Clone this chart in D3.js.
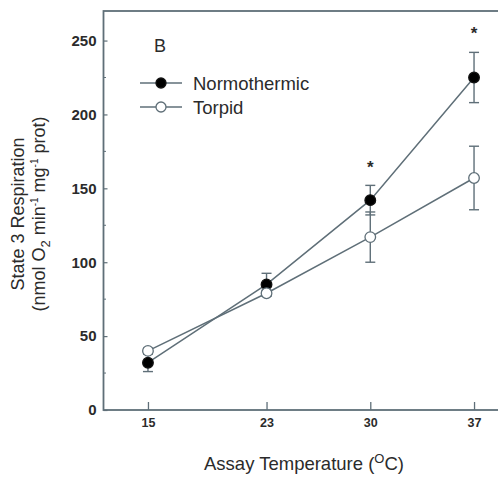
<!DOCTYPE html>
<html><head><meta charset="utf-8">
<script src="https://cdn.jsdelivr.net/npm/d3@7"></script>
<style>body{margin:0;background:#fff}svg{display:block}text{font-family:"Liberation Sans",Arial,sans-serif;fill:#2b2b2b}</style>
</head><body>
<svg id="c" width="498" height="478"></svg>
<script>
const temps = [15, 23, 30, 37];
const normoMean = [32, 85, 142, 225];
const normoErr = [6, 7.5, 10, 17];
const torpidMean = [40, 79, 117, 157];
const torpidErr = [2, 2, 17, 21.5];
const yTicks = [0, 50, 100, 150, 200, 250];
const yMinor = [25, 75, 125, 175, 225];
const starTemps = [30, 37];
const starValues = [165, 256];

const svg = d3.select("#c");
const col = "#5f6f78";
const x = d3.scaleLinear().domain([12, 40]).range([103.5, 518.5]);
const y = d3.scaleLinear().domain([0, 270]).range([410, 11]);

// frame
svg.append("rect").attr("x", x(12)).attr("y", y(270)).attr("width", x(40)-x(12)).attr("height", y(0)-y(270))
  .attr("fill", "none").attr("stroke", col).attr("stroke-width", 1.8);

// y axis
const ya = svg.append("g").attr("transform", `translate(${x(12)},0)`)
  .call(d3.axisLeft(y).tickValues(yTicks).tickSize(-4).tickPadding(7));
ya.select(".domain").remove();
ya.selectAll("line").attr("stroke", col).attr("stroke-width", 1.2);
ya.selectAll("text").attr("font-size", 15).attr("font-weight", "bold").attr("fill", "#3a3a3a")
  .attr("font-family", "Liberation Sans, Arial, sans-serif");
svg.append("g").selectAll("line").data(yMinor).join("line")
  .attr("x1", x(12)).attr("x2", x(12)+2.5).attr("y1", d => y(d)).attr("y2", d => y(d))
  .attr("stroke", col).attr("stroke-width", 1);

// x axis
const xa = svg.append("g").attr("transform", `translate(0,${y(0)})`)
  .call(d3.axisBottom(x).tickValues(temps).tickSize(-8).tickPadding(8).tickFormat(d3.format("d")));
xa.select(".domain").remove();
xa.selectAll("line").attr("stroke", col).attr("stroke-width", 1.3);
xa.selectAll("text").attr("font-size", 12.5).attr("font-weight", "bold").attr("fill", "#3a3a3a")
  .attr("font-family", "Liberation Sans, Arial, sans-serif");

// axis titles
const xt = svg.append("text").attr("x", 304).attr("y", 470).attr("text-anchor", "middle").attr("font-size", 18.5);
xt.append("tspan").text("Assay Temperature (");
xt.append("tspan").attr("font-size", 13).attr("dy", -7).text("O");
xt.append("tspan").attr("dy", 7).text("C)");

const yt = svg.append("g").attr("transform", "translate(0,214) rotate(-90)");
yt.append("text").attr("x", 0).attr("y", 24).attr("text-anchor", "middle").attr("font-size", 18).text("State 3 Respiration");
const y2 = yt.append("text").attr("x", 0).attr("y", 45).attr("text-anchor", "middle").attr("font-size", 18);
y2.append("tspan").text("(nmol O");
y2.append("tspan").attr("font-size", 13).attr("dy", 5).text("2");
y2.append("tspan").attr("dy", -5).text(" min");
y2.append("tspan").attr("font-size", 10).attr("dy", -7).text("-1");
y2.append("tspan").attr("dy", 7).text(" mg");
y2.append("tspan").attr("font-size", 10).attr("dy", -7).text("-1");
y2.append("tspan").attr("dy", 7).text(" prot)");

// series
const series = [
  {mean: normoMean, err: normoErr, fill: "#000"},
  {mean: torpidMean, err: torpidErr, fill: "#fff"}
];
const line = d3.line().x(d => x(d[0])).y(d => y(d[1]));
series.forEach(s => {
  const pts = temps.map((t, i) => [t, s.mean[i], s.err[i]]);
  const g = svg.append("g");
  pts.forEach(p => {
    const cx = x(p[0]);
    g.append("line").attr("x1", cx).attr("x2", cx).attr("y1", y(p[1]-p[2])).attr("y2", y(p[1]+p[2])).attr("stroke", col).attr("stroke-width", 1.4);
    [p[1]-p[2], p[1]+p[2]].forEach(v => g.append("line").attr("x1", cx-5).attr("x2", cx+5).attr("y1", y(v)).attr("y2", y(v)).attr("stroke", col).attr("stroke-width", 1.4));
  });
  g.append("path").datum(pts).attr("d", line).attr("fill", "none").attr("stroke", col).attr("stroke-width", 1.5);
  g.selectAll("circle").data(pts).join("circle").attr("cx", d => x(d[0])).attr("cy", d => y(d[1])).attr("r", 5.3)
    .attr("fill", s.fill).attr("stroke", s.fill === "#000" ? "#111" : col).attr("stroke-width", 1.3);
});

// significance stars
svg.append("g").selectAll("text").data(starTemps).join("text")
  .attr("x", d => x(d)).attr("y", (d, i) => y(starValues[i]) + 7).attr("text-anchor", "middle")
  .attr("font-size", 17).attr("font-weight", "bold").text("*");

// panel label + legend
svg.append("text").attr("x", 160).attr("y", 51.5).attr("text-anchor", "middle").attr("font-size", 18).text("B");
const legend = [{name: "Normothermic", fill: "#000"}, {name: "Torpid", fill: "#fff"}];
legend.forEach((l, i) => {
  const ly = 83 + i * 24;
  svg.append("line").attr("x1", 140).attr("x2", 182).attr("y1", ly).attr("y2", ly).attr("stroke", col).attr("stroke-width", 1.5);
  svg.append("circle").attr("cx", 161).attr("cy", ly).attr("r", 5).attr("fill", l.fill).attr("stroke", l.fill === "#000" ? "#111" : col).attr("stroke-width", 1.3);
  svg.append("text").attr("x", 193).attr("y", ly + 6.5).attr("font-size", 18.5).text(l.name);
});
</script>
</body></html>
